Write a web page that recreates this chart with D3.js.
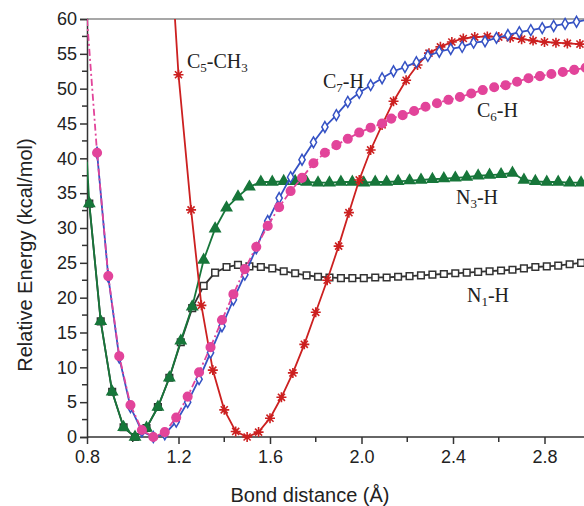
<!DOCTYPE html>
<html>
<head>
<meta charset="utf-8">
<script src="https://cdn.jsdelivr.net/npm/d3@7"></script>
<style>
  body { margin: 0; background: #fff; }
  text { font-family: "Liberation Sans", Arial, sans-serif; }
  .lbl { font-family: "Liberation Serif", "Times New Roman", serif; }
</style>
</head>
<body>
<script>
// Bond distance (A) and relative energy (kcal/mol) per curve
var n3hX = [0.80, 0.81, 0.86, 0.91, 0.96, 1.01, 1.06, 1.11, 1.16, 1.21, 1.26, 1.31, 1.36, 1.41, 1.46, 1.51, 1.56, 1.61, 1.66, 1.71,
            1.76, 1.81, 1.86, 1.91, 1.96, 2.01, 2.06, 2.11, 2.16, 2.21, 2.26, 2.31, 2.36, 2.41, 2.46, 2.51, 2.56, 2.61, 2.66, 2.71,
            2.76, 2.81, 2.86, 2.91, 2.96];
var n3hY = [39.5, 33.5, 16.6, 6.5, 1.4, 0, 1.3, 4.3, 8.5, 13.8, 18.7, 25.4, 29.9, 32.9, 34.5, 35.9, 36.6, 36.6, 36.7, 36.7,
            36.6, 36.5, 36.5, 36.6, 36.6, 36.5, 36.6, 36.6, 36.7, 36.8, 36.9, 37.0, 37.1, 37.2, 37.3, 37.5, 37.6, 37.7, 37.9, 36.9,
            36.7, 36.6, 36.6, 36.5, 36.5];

var n1hX = [0.81, 0.86, 0.91, 0.96, 1.01, 1.06, 1.11, 1.16, 1.21, 1.26, 1.31, 1.36, 1.41, 1.46, 1.51, 1.56, 1.61, 1.66, 1.71,
            1.76, 1.81, 1.86, 1.91, 1.96, 2.01, 2.06, 2.11, 2.16, 2.21, 2.26, 2.31, 2.36, 2.41, 2.46, 2.51, 2.56, 2.61, 2.66, 2.71,
            2.76, 2.81, 2.86, 2.91, 2.96];
var n1hY = [33.5, 16.6, 6.5, 1.4, 0, 1.3, 4.3, 8.5, 13.6, 18.5, 21.7, 23.6, 24.4, 24.7, 24.5, 24.4, 24.2, 23.8, 23.5,
            23.2, 23.0, 22.9, 22.8, 22.8, 22.8, 22.9, 22.9, 23.0, 23.1, 23.2, 23.3, 23.4, 23.5, 23.6, 23.7, 23.8, 23.9, 24.0, 24.2,
            24.4, 24.5, 24.6, 24.8, 25.0];

var c5X = [1.15, 1.20, 1.255, 1.30, 1.35, 1.40, 1.45, 1.50, 1.55, 1.60, 1.65, 1.70, 1.75, 1.80, 1.85, 1.90, 1.945, 1.99, 2.04,
           2.09, 2.14, 2.195, 2.245, 2.295, 2.345, 2.395, 2.445, 2.495, 2.55, 2.60, 2.65, 2.70, 2.75, 2.80, 2.85, 2.90, 2.955];
var c5Y = [78, 52.0, 32.6, 18.9, 9.6, 3.9, 0.8, 0, 0.7, 2.7, 5.7, 9.2, 13.3, 17.9, 22.5, 27.4, 32.2, 36.9, 41.2,
           44.8, 48.2, 51.2, 53.4, 55.1, 56.0, 56.7, 57.2, 57.4, 57.5, 57.4, 57.3, 57.1, 56.9, 56.7, 56.6, 56.5, 56.4];

var c7X = [0.844, 0.893, 0.941, 0.99, 1.04, 1.09, 1.14, 1.19, 1.24, 1.29, 1.34, 1.39, 1.44, 1.49, 1.54, 1.59, 1.64, 1.69, 1.74,
           1.79, 1.84, 1.89, 1.94, 1.99, 2.04, 2.09, 2.14, 2.19, 2.24, 2.29, 2.34, 2.39, 2.44, 2.49, 2.54, 2.59, 2.64, 2.69, 2.74,
           2.79, 2.84, 2.89, 2.94, 2.99];
var c7Y = [40.8, 23.0, 11.4, 4.3, 0.8, 0, 0.4, 2.2, 5.0, 8.3, 12.1, 15.9, 19.7, 23.3, 27.1, 31.0, 34.3, 37.3, 39.8,
           42.3, 44.5, 46.2, 48.1, 49.4, 50.5, 51.5, 52.5, 53.1, 53.8, 54.7, 55.3, 55.7, 56.0, 56.6, 56.8, 57.3, 57.7, 58.1, 58.4,
           58.7, 59.0, 59.3, 59.6, 59.9];

var c6X = [0.80, 0.844, 0.893, 0.941, 0.99, 1.04, 1.09, 1.14, 1.19, 1.24, 1.29, 1.34, 1.39, 1.44, 1.49, 1.54, 1.59, 1.64, 1.69, 1.74,
           1.79, 1.84, 1.89, 1.94, 1.99, 2.04, 2.09, 2.13, 2.18, 2.23, 2.28, 2.33, 2.38, 2.43, 2.48, 2.53, 2.58, 2.63, 2.68, 2.73,
           2.78, 2.83, 2.88, 2.93, 2.98];
var c6Y = [60, 40.8, 23.1, 11.6, 4.6, 1.0, 0, 0.7, 2.8, 5.8, 9.3, 12.9, 16.8, 20.5, 24.1, 27.3, 30.3, 33.0, 35.3, 37.2,
           39.3, 40.8, 41.9, 42.8, 43.7, 44.4, 45.0, 45.7, 46.2, 46.8, 47.4, 47.9, 48.4, 48.8, 49.3, 49.8, 50.2, 50.5, 51.0, 51.5,
           51.8, 52.1, 52.4, 52.7, 53.0];

var xTicks = [0.8, 1.2, 1.6, 2.0, 2.4, 2.8];
var yTicks = [0, 5, 10, 15, 20, 25, 30, 35, 40, 45, 50, 55, 60];

var w = 584, h = 506;
var svg = d3.select("body").append("svg").attr("width", w).attr("height", h);

var x = d3.scaleLinear().domain([0.8, 3.0]).range([87, 590.25]);
var y = d3.scaleLinear().domain([0, 60]).range([437, 19]);

// only clip the top, markers at 0 hang below the axis
svg.append("clipPath").attr("id", "clip")
   .append("rect").attr("x", 87).attr("y", 19).attr("width", 510).attr("height", 480);

// top frame line
svg.append("line").attr("x1", 87).attr("x2", w).attr("y1", 19).attr("y2", 19)
   .attr("stroke", "#8a8a8a").attr("stroke-width", 1.5);

// minor ticks
svg.append("g").selectAll("line").data(d3.range(1.0, 3.0, 0.4)).enter().append("line")
   .attr("x1", function(d) { return x(d); }).attr("x2", function(d) { return x(d); })
   .attr("y1", 437).attr("y2", 442).attr("stroke", "#333").attr("stroke-width", 1.5);
svg.append("g").selectAll("line").data(d3.range(2.5, 60, 5)).enter().append("line")
   .attr("y1", function(d) { return y(d); }).attr("y2", function(d) { return y(d); })
   .attr("x1", 82).attr("x2", 87).attr("stroke", "#333").attr("stroke-width", 1.5);

var xAxis = svg.append("g").attr("transform", "translate(0,437)")
   .call(d3.axisBottom(x).tickValues(xTicks).tickFormat(d3.format(".1f")).tickSizeOuter(0).tickSize(7).tickPadding(6));
var yAxis = svg.append("g").attr("transform", "translate(87,0)")
   .call(d3.axisLeft(y).tickValues(yTicks).tickSizeOuter(0).tickSize(7).tickPadding(3));
[xAxis, yAxis].forEach(function(a) {
  a.select(".domain").attr("stroke", "#333").attr("stroke-width", 1.5);
  a.selectAll(".tick line").attr("stroke", "#333").attr("stroke-width", 1.5);
  a.selectAll("text").attr("font-size", 18).attr("fill", "#222")
   .attr("font-family", "'Liberation Sans', Arial, sans-serif");
});
xAxis.select(".domain").attr("d", "M87,0H" + w);

svg.append("text").attr("x", 310).attr("y", 502).attr("text-anchor", "middle")
   .attr("font-size", 20).attr("fill", "#222").text("Bond distance (Å)");
svg.append("text").attr("transform", "translate(32,255) rotate(-90)").attr("text-anchor", "middle")
   .attr("font-size", 20).attr("fill", "#222").text("Relative Energy (kcal/mol)");

function pts(xs, ys) { return xs.map(function(d, i) { return [d, ys[i]]; }); }

var line = d3.line().x(function(d) { return x(d[0]); }).y(function(d) { return y(d[1]); });

function asterisk(s) {
  var p = "";
  for (var k = 0; k < 4; k++) {
    var a = k * Math.PI / 4, dx = Math.cos(a) * s, dy = Math.sin(a) * s;
    p += "M" + (-dx) + "," + (-dy) + "L" + dx + "," + dy;
  }
  return p;
}

// drawing order matters: N1-H sits under N3-H, C6-H on top of C7-H
var series = [
  { xs: n1hX, ys: n1hY, color: "#333333", dash: null, sym: d3.symbolSquare, size: 44, fill: "#fff" },
  { xs: n3hX, ys: n3hY, color: "#17763a", dash: null, sym: d3.symbolTriangle, size: 46, fill: "#17763a" },
  { xs: c5X, ys: c5Y, color: "#cc2020", dash: null, sym: "ast", size: 5, fill: "#cc2020" },
  { xs: c7X, ys: c7Y, color: "#3552c4", dash: null, sym: d3.symbolDiamond, size: 34, fill: "#fff" },
  { xs: c6X, ys: c6Y, color: "#e2449a", dash: "7,3,2,3", sym: d3.symbolCircle, size: 58, fill: "#e2449a" }
];

series.forEach(function(s) {
  var data = pts(s.xs, s.ys);
  var g = svg.append("g");
  g.append("path").datum(data).attr("clip-path", "url(#clip)")
   .attr("d", line).attr("fill", "none").attr("stroke", s.color).attr("stroke-width", 1.8)
   .attr("stroke-dasharray", s.dash);
  var m = g.selectAll(".m").data(data.filter(function(d) { return d[0] > 0.8 && d[1] <= 60; }))
   .enter().append("path")
   .attr("transform", function(d) { return "translate(" + x(d[0]) + "," + y(d[1]) + ")"; });
  if (s.sym === "ast") {
    m.attr("d", asterisk(s.size)).attr("stroke", s.color).attr("stroke-width", 1.6).attr("fill", "none");
    g.selectAll(".c").data(data.filter(function(d) { return d[1] <= 60; })).enter().append("circle")
     .attr("cx", function(d) { return x(d[0]); }).attr("cy", function(d) { return y(d[1]); })
     .attr("r", 2.2).attr("fill", s.color);
  } else {
    m.attr("d", d3.symbol().type(s.sym).size(s.size)).attr("fill", s.fill)
     .attr("stroke", s.color).attr("stroke-width", 1.5);
  }
});

// curve labels with subscripts
var labels = [
  { x: 187, y: 68, main: "C", sub: "5", rest: "-CH", sub2: "3" },
  { x: 323, y: 88, main: "C", sub: "7", rest: "-H" },
  { x: 477, y: 117, main: "C", sub: "6", rest: "-H" },
  { x: 456, y: 204, main: "N", sub: "3", rest: "-H" },
  { x: 467, y: 302, main: "N", sub: "1", rest: "-H" }
];
labels.forEach(function(l) {
  var t = svg.append("text").attr("class", "lbl").attr("x", l.x).attr("y", l.y)
     .attr("font-size", 20).attr("fill", "#222");
  t.append("tspan").text(l.main);
  t.append("tspan").attr("font-size", 13).attr("dy", 4).text(l.sub);
  t.append("tspan").attr("dy", -4).text(l.rest);
  if (l.sub2) t.append("tspan").attr("font-size", 13).attr("dy", 4).text(l.sub2);
});
</script>
</body>
</html>
